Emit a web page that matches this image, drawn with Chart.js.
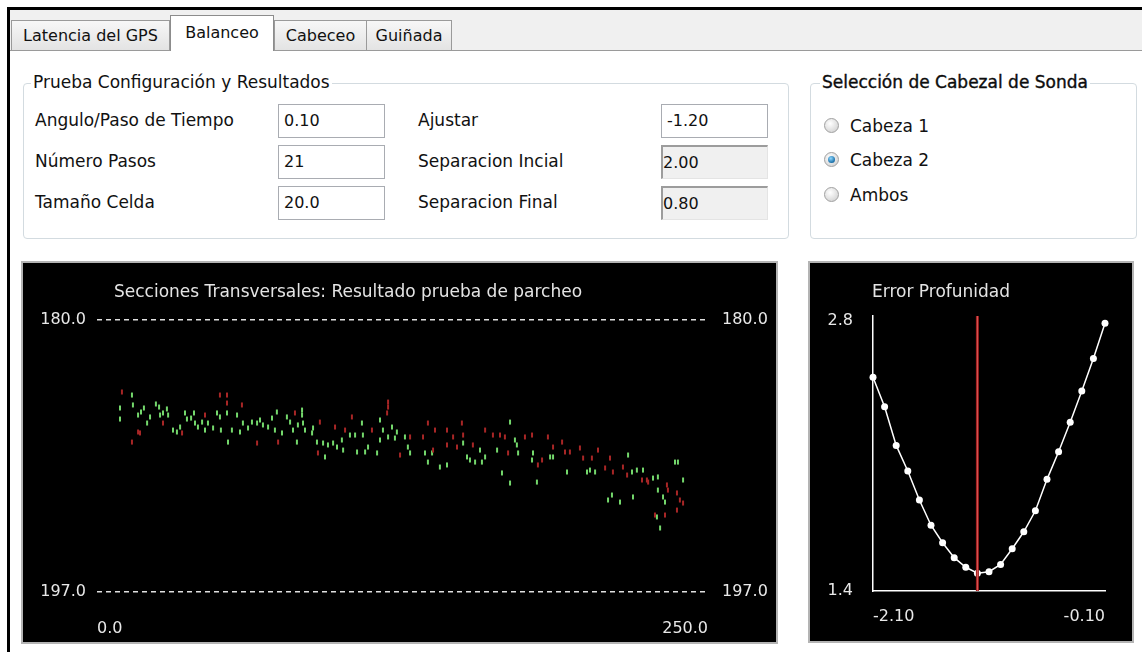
<!DOCTYPE html>
<html>
<head>
<meta charset="utf-8">
<script src="https://cdn.jsdelivr.net/npm/chart.js@4.4.1/dist/chart.umd.min.js"></script>
<style>
html,body{margin:0;padding:0;background:#fff;width:1142px;height:652px;overflow:hidden;font-family:"DejaVu Sans",sans-serif;font-size:17px;color:#111}
.a{position:absolute;white-space:nowrap}
#frameTop{left:7px;top:7px;width:1135px;height:3px;background:#000}
#frameLeft{left:7px;top:7px;width:3px;height:645px;background:#000}
#strip{left:10px;top:10px;width:1132px;height:40px;background:#f0f0f0}
#stripLine{left:10px;top:50px;width:1132px;height:1px;background:#9a9a9a}
.tab{position:absolute;top:20px;height:30px;border:1px solid #9a9a9a;border-bottom:none;box-sizing:border-box;background:linear-gradient(#f7f7f7,#e3e3e3);text-align:center;line-height:30px;font-size:16px}
.tab.sel{top:15px;height:36px;background:#fff;border-color:#8c8c8c;line-height:34px;z-index:2}
.group{position:absolute;border:1px solid #d3dbe0;border-radius:4px;box-sizing:border-box}
.gtitle{position:absolute;background:#fff;padding:0 2px;line-height:20px}
.lbl{position:absolute;line-height:33px}
.inp{position:absolute;box-sizing:border-box;height:34px;width:107px;border:1px solid #a9acb2;background:#fff;line-height:32px;padding-left:5px;font-size:16px}
.inp.dis{background:#f0f0f0;border-top:2px solid #9c9c9c;border-left:2px solid #9c9c9c;border-right:1px solid #e4e4e4;border-bottom:1px solid #e4e4e4;padding-left:0}
.radio{position:absolute;width:15px;height:15px;border-radius:50%;border:1px solid #a0a0a0;background:radial-gradient(circle at 40% 35%,#ffffff,#dadada 70%,#c4c4c4);box-sizing:border-box}
.radio.on::after{content:"";position:absolute;left:3px;top:3px;width:7px;height:7px;border-radius:50%;background:radial-gradient(circle at 40% 35%,#8fd8ff,#1a6fa8 70%,#0d4f80)}
.rtxt{position:absolute;line-height:20px}
.panel{position:absolute;background:#000;border:2px solid #b4b4b4;box-sizing:border-box}
.ctitle{position:absolute;color:#e4e4e4;line-height:20px;font-size:17px;white-space:nowrap}
canvas{position:absolute}
</style>
</head>
<body>
<div id="frameTop" class="a"></div>
<div id="frameLeft" class="a"></div>
<div id="strip" class="a"></div>
<div id="stripLine" class="a"></div>

<div class="tab" style="left:11px;width:159px">Latencia del GPS</div>
<div class="tab sel" style="left:170px;width:104px">Balanceo</div>
<div class="tab" style="left:274px;width:93px">Cabeceo</div>
<div class="tab" style="left:366px;width:86px">Guiñada</div>

<div class="group" style="left:23px;top:83px;width:766px;height:156px"></div>
<div class="gtitle" style="left:31px;top:72px">Prueba Configuración y Resultados</div>

<div class="lbl" style="left:35px;top:104px">Angulo/Paso de Tiempo</div>
<div class="lbl" style="left:35px;top:145px">Número Pasos</div>
<div class="lbl" style="left:35px;top:186px">Tamaño Celda</div>
<div class="inp" style="left:278px;top:104px">0.10</div>
<div class="inp" style="left:278px;top:145px">21</div>
<div class="inp" style="left:278px;top:186px">20.0</div>

<div class="lbl" style="left:418px;top:104px">Ajustar</div>
<div class="lbl" style="left:418px;top:145px">Separacion Incial</div>
<div class="lbl" style="left:418px;top:186px">Separacion Final</div>
<div class="inp" style="left:661px;top:104px">-1.20</div>
<div class="inp dis" style="left:661px;top:145px">2.00</div>
<div class="inp dis" style="left:661px;top:186px">0.80</div>

<div class="group" style="left:810px;top:83px;width:327px;height:156px"></div>
<div class="gtitle" style="left:820px;top:72px;-webkit-text-stroke:0.35px #000">Selección de Cabezal de Sonda</div>
<div class="radio" style="left:824px;top:118px"></div>
<div class="rtxt" style="left:850px;top:116px">Cabeza 1</div>
<div class="radio on" style="left:824px;top:152px"></div>
<div class="rtxt" style="left:850px;top:150px">Cabeza 2</div>
<div class="radio" style="left:824px;top:187px"></div>
<div class="rtxt" style="left:850px;top:185px">Ambos</div>

<div class="panel" style="left:21px;top:261px;width:757px;height:383px"></div>
<canvas id="cLeft" width="753" height="379" style="left:23px;top:263px;width:753px;height:379px"></canvas>
<div class="ctitle" style="left:114px;top:281px">Secciones Transversales: Resultado prueba de parcheo</div>

<div class="panel" style="left:808px;top:261px;width:326px;height:382px"></div>
<canvas id="cRight" width="322" height="378" style="left:810px;top:263px;width:322px;height:378px"></canvas>
<div class="ctitle" style="left:872px;top:281px">Error Profunidad</div>

<script>
// ---------- Data: left chart (cross sections) ----------
// Cabeza 2 (green) soundings: distance along section, depth
const greenDist = [9.4,9.4,14.3,14.7,16.8,18.0,19.2,20.5,21.7,24.1,25.4,25.8,27.0,28.6,29.1,31.1,32.7,34.0,36.0,36.8,38.5,39.7,40.1,41.3,43.0,44.2,45.4,47.5,49.1,50.3,50.7,53.2,53.6,55.2,57.3,58.5,59.7,61.8,63.4,65.5,66.7,67.9,70.0,71.6,72.8,73.6,75.7,77.7,79.0,80.2,81.8,82.2,83.9,83.9,84.3,85.1,88.4,88.0,90.0,92.5,93.3,94.5,96.6,98.2,100.2,100.7,103.5,105.6,106.4,108.4,108.8,109.7,110.9,114.6,115.8,115.8,117.0,119.1,120.7,121.9,122.7,126.0,127.2,128.1,134.2,135.4,137.1,140.3,143.2,149.8,151.4,152.6,154.7,156.7,157.5,158.8,163.7,169.0,171.0,171.8,172.3,178.0,178.4,185.4,186.6,165.7,169.0,180.0,192.3,200.5,201.7,203.8,217.3,218.9,220.9,223.4,227.5,229.5,210.7,209.1,214.0,219.3,229.5,231.6,232.4,236.5,237.7,239.8,230.4,229.1];
const greenDepth = [185.50,186.19,184.69,185.31,185.94,185.75,185.50,186.44,186.06,185.25,185.44,185.94,185.81,185.56,185.94,186.88,187.00,186.69,185.81,186.19,186.13,185.81,186.44,186.69,186.38,186.88,186.44,186.75,185.81,186.06,186.88,185.81,187.63,186.88,185.94,187.00,186.44,186.75,186.38,186.44,186.25,186.56,186.69,186.13,186.88,185.75,187.06,186.06,186.38,186.88,187.63,186.56,185.94,185.63,186.44,186.88,186.75,187.06,187.63,187.69,188.56,187.81,187.69,187.94,187.50,188.13,187.19,187.19,188.25,186.44,187.19,188.25,187.94,188.31,186.25,187.50,186.88,187.31,186.69,187.38,187.00,187.31,187.94,188.31,188.31,188.88,188.31,189.19,189.06,187.69,188.56,188.75,188.88,188.13,188.88,188.56,188.13,186.38,187.50,187.81,188.31,188.75,188.31,188.56,188.56,189.56,190.19,190.13,189.50,189.50,189.38,189.50,188.44,189.50,189.38,189.38,189.88,189.81,190.94,191.25,191.38,191.06,190.63,191.06,191.38,188.88,188.88,190.00,193.00,192.31];
// Cabeza 1 (red) soundings
const redDist = [10.2,14.3,16.8,17.6,27.0,34.8,44.2,50.3,53.2,53.2,59.3,65.5,74.1,81.0,119.1,119.1,118.7,104.3,91.2,97.4,101.5,112.5,128.1,133.4,135.4,138.3,143.2,145.7,149.3,149.8,158.8,162.0,137.5,143.2,124.0,147.3,153.8,90.4,164.9,166.9,175.1,178.0,184.5,190.3,186.6,191.5,193.5,197.6,198.9,202.5,205.0,209.9,207.9,211.1,215.2,216.9,223.0,225.5,233.2,233.6,237.3,238.5,239.8,232.4,228.3,225.0,237.3,180.4,182.1,168.2];
const redDepth = [184.50,187.63,187.00,187.06,186.44,187.06,185.94,184.69,184.69,185.19,185.31,187.69,187.63,185.81,185.13,185.44,185.81,186.06,186.38,186.69,186.88,186.88,187.31,187.31,186.44,186.88,186.88,187.31,186.44,187.19,186.88,187.19,188.13,187.81,188.44,187.94,187.81,188.31,187.19,187.31,187.31,187.19,187.31,187.63,187.94,188.25,188.25,188.00,188.63,188.63,188.13,188.63,189.25,189.50,189.19,189.69,190.00,190.13,190.31,190.63,190.81,191.25,191.44,192.19,192.19,190.00,191.88,189.06,188.75,188.31];
const sectionXTicks = [0.0, 250.0];
const sectionYTicks = [180.0, 197.0];

// ---------- Data: right chart (depth error vs. roll offset) ----------
const rollSteps = [-2.10,-2.00,-1.90,-1.80,-1.70,-1.60,-1.50,-1.40,-1.30,-1.20,-1.10,-1.00,-0.90,-0.80,-0.70,-0.60,-0.50,-0.40,-0.30,-0.20,-0.10];
const depthError = [2.508,2.355,2.155,2.022,1.872,1.741,1.650,1.573,1.523,1.492,1.500,1.538,1.619,1.707,1.816,1.979,2.122,2.275,2.437,2.606,2.788];
const adjustValue = -1.20;
const errorXTicks = [-2.10, -0.10];
const errorYTicks = [1.4, 2.8];
const errorYMax = 2.826;

Chart.defaults.font.family = '"DejaVu Sans", sans-serif';
Chart.defaults.font.size = 16;
Chart.defaults.color = '#e8e8e8';

const setTicks = arr => s => { s.ticks = arr.map(v => ({value: v})); };

new Chart(document.getElementById('cLeft'), {
  type: 'scatter',
  data: {
    datasets: [
      { label: 'Cabeza 1', data: redDist.map((x, i) => ({x, y: redDepth[i]})),
        pointStyle: 'line', rotation: 90, radius: 2.5, borderWidth: 2,
        borderColor: '#a82626', backgroundColor: '#a82626' },
      { label: 'Cabeza 2', data: greenDist.map((x, i) => ({x, y: greenDepth[i]})),
        pointStyle: 'line', rotation: 90, radius: 2.5, borderWidth: 2,
        borderColor: '#74d86c', backgroundColor: '#74d86c' }
    ]
  },
  options: {
    responsive: false, animation: false, events: [],
    layout: { padding: { top: 57, left: 0, right: 0, bottom: 0 } },
    plugins: { legend: { display: false }, title: { display: false }, tooltip: { enabled: false } },
    scales: {
      x: { type: 'linear', min: 0, max: 250, afterBuildTicks: setTicks(sectionXTicks),
           afterFit: s => { s.height = 50; },
           grid: { display: false }, border: { display: false },
           ticks: { align: 'inner', padding: 19, maxRotation: 0, autoSkip: false, color: '#e8e8e8',
                    callback: v => Number(v).toFixed(1) } },
      y: { min: 180, max: 197, reverse: true, afterBuildTicks: setTicks(sectionYTicks),
           afterFit: s => { s.width = 74; },
           grid: { color: '#e0e0e0', lineWidth: 1.5, drawTicks: false, borderDash: [5, 4] },
           border: { display: false, dash: [5, 4] },
           ticks: { padding: 11, autoSkip: false, color: '#e8e8e8', callback: v => Number(v).toFixed(1) } },
      y2: { position: 'right', min: 180, max: 197, reverse: true, afterBuildTicks: setTicks(sectionYTicks),
           afterFit: s => { s.width = 68; },
           grid: { display: false, drawTicks: false }, border: { display: false },
           ticks: { padding: 14, autoSkip: false, color: '#e8e8e8', callback: v => Number(v).toFixed(1) } }
    }
  }
});

new Chart(document.getElementById('cRight'), {
  type: 'line',
  data: {
    datasets: [
      { data: [{x: adjustValue, y: errorYTicks[0]}, {x: adjustValue, y: errorYMax}],
        borderColor: '#d85a5a', borderWidth: 1, pointRadius: 0, order: 0, clip: false },
      { data: [{x: adjustValue, y: errorYTicks[0]}, {x: adjustValue, y: errorYMax}],
        borderColor: '#a01c1c', borderWidth: 3, pointRadius: 0, order: 1, clip: false },
      { data: rollSteps.map((x, i) => ({x, y: depthError[i]})),
        borderColor: '#ffffff', borderWidth: 1.5, pointRadius: 3.5, pointBorderWidth: 0,
        pointBackgroundColor: '#ffffff', order: 2, clip: false, tension: 0 }
    ]
  },
  options: {
    responsive: false, animation: false, events: [],
    layout: { padding: { top: 53, left: 0, right: 27, bottom: 0 } },
    plugins: { legend: { display: false }, title: { display: false }, tooltip: { enabled: false } },
    scales: {
      x: { type: 'linear', min: -2.10, max: -0.10, afterBuildTicks: setTicks(errorXTicks),
           afterFit: s => { s.height = 50; },
           grid: { display: false, drawTicks: false }, border: { display: true, color: '#ffffff', width: 1.5 },
           ticks: { align: 'inner', padding: 16, maxRotation: 0, autoSkip: false, color: '#e8e8e8',
                    callback: v => Number(v).toFixed(2) } },
      y: { min: 1.4, max: errorYMax, afterBuildTicks: setTicks(errorYTicks),
           afterFit: s => { s.width = 63; },
           grid: { display: false, drawTicks: false }, border: { display: true, color: '#ffffff', width: 1.5 },
           ticks: { padding: 20, autoSkip: false, color: '#e8e8e8', callback: v => Number(v).toFixed(1) } }
    }
  }
});
</script>
</body>
</html>
